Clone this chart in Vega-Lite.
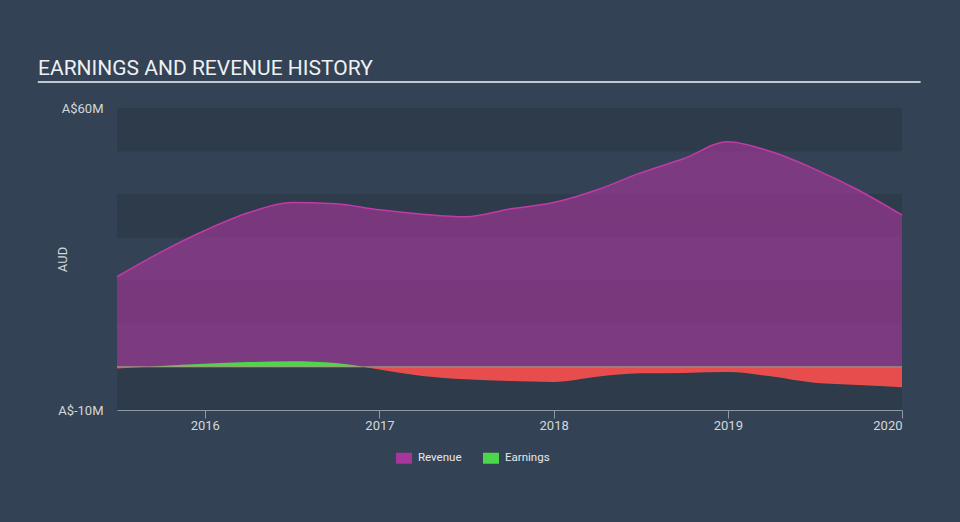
{
  "$schema": "https://vega.github.io/schema/vega-lite/v6.json",
  "width": 785,
  "height": 302,
  "autosize": {"type": "none"},
  "padding": {"left": 117, "top": 108, "right": 58, "bottom": 112},
  "background": "#334355",
  "config": {
    "view": {"stroke": null},
    "font": "Roboto",
    "legend": {
      "orient": "none",
      "direction": "horizontal",
      "legendX": 279,
      "legendY": 342,
      "title": null,
      "labelColor": "#e6e8ea",
      "labelFont": "Roboto",
      "labelFontSize": 11.5,
      "labelOffset": 6,
      "columnPadding": 21,
      "padding": 0,
      "symbolType": "M-1,-0.6875H1V0.6875H-1Z",
      "symbolSize": 256,
      "symbolOpacity": 1,
      "symbolStrokeWidth": 0
    }
  },
  "title": {
    "text": "EARNINGS AND REVENUE HISTORY",
    "anchor": "start",
    "frame": "group",
    "dx": -79,
    "dy": 22,
    "offset": 7,
    "baseline": "alphabetic",
    "font": "Roboto",
    "fontSize": 21,
    "fontWeight": "normal",
    "color": "#eef0f2"
  },
  "datasets": {
    "bands": [
      {"lo": 50, "hi": 60},
      {"lo": 30, "hi": 40},
      {"lo": 10, "hi": 20},
      {"lo": -10, "hi": 0}
    ],
    "one": [{"id": 1}],
    "history": [
      {"series": "Revenue", "date": "2015-07-01", "value": 20.9},
      {"series": "Revenue", "date": "2015-10-01", "value": 26.6},
      {"series": "Revenue", "date": "2016-01-01", "value": 31.6},
      {"series": "Revenue", "date": "2016-04-01", "value": 35.7},
      {"series": "Revenue", "date": "2016-07-01", "value": 38.1},
      {"series": "Revenue", "date": "2016-10-01", "value": 37.8},
      {"series": "Revenue", "date": "2017-01-01", "value": 36.4},
      {"series": "Revenue", "date": "2017-04-01", "value": 35.4},
      {"series": "Revenue", "date": "2017-07-01", "value": 34.8},
      {"series": "Revenue", "date": "2017-10-01", "value": 36.6},
      {"series": "Revenue", "date": "2018-01-01", "value": 38.1},
      {"series": "Revenue", "date": "2018-04-01", "value": 41.0},
      {"series": "Revenue", "date": "2018-07-01", "value": 44.9},
      {"series": "Revenue", "date": "2018-10-01", "value": 48.3},
      {"series": "Revenue", "date": "2019-01-01", "value": 52.2},
      {"series": "Revenue", "date": "2019-04-01", "value": 49.9},
      {"series": "Revenue", "date": "2019-07-01", "value": 45.9},
      {"series": "Revenue", "date": "2019-10-01", "value": 41.0},
      {"series": "Revenue", "date": "2020-01-01", "value": 35.2},
      {"series": "Earnings", "date": "2015-07-01", "value": -0.4},
      {"series": "Earnings", "date": "2015-10-01", "value": 0.2},
      {"series": "Earnings", "date": "2016-01-01", "value": 0.7},
      {"series": "Earnings", "date": "2016-04-01", "value": 1.1},
      {"series": "Earnings", "date": "2016-07-01", "value": 1.3},
      {"series": "Earnings", "date": "2016-10-01", "value": 0.9},
      {"series": "Earnings", "date": "2017-01-01", "value": -0.6},
      {"series": "Earnings", "date": "2017-04-01", "value": -2.1},
      {"series": "Earnings", "date": "2017-07-01", "value": -2.9},
      {"series": "Earnings", "date": "2017-10-01", "value": -3.3},
      {"series": "Earnings", "date": "2018-01-01", "value": -3.5},
      {"series": "Earnings", "date": "2018-04-01", "value": -2.3},
      {"series": "Earnings", "date": "2018-07-01", "value": -1.5},
      {"series": "Earnings", "date": "2018-10-01", "value": -1.4},
      {"series": "Earnings", "date": "2019-01-01", "value": -1.2},
      {"series": "Earnings", "date": "2019-04-01", "value": -2.2},
      {"series": "Earnings", "date": "2019-07-01", "value": -3.7},
      {"series": "Earnings", "date": "2019-10-01", "value": -4.2},
      {"series": "Earnings", "date": "2020-01-01", "value": -4.7}
    ]
  },
  "layer": [
    {
      "data": {"name": "bands"},
      "mark": {"type": "rect", "color": "#2d3b4a"},
      "encoding": {
        "x": {"datum": {"year": 2015, "month": 7, "date": 1, "utc": true}, "type": "temporal",
              "scale": {"type": "utc", "domain": [{"year": 2015, "month": 7, "date": 1, "utc": true}, {"year": 2020, "month": 1, "date": 1, "utc": true}]}},
        "x2": {"datum": {"year": 2020, "month": 1, "date": 1, "utc": true}},
        "y": {"field": "lo", "type": "quantitative", "scale": {"domain": [-10, 60], "nice": false, "zero": false}},
        "y2": {"field": "hi"}
      }
    },
    {
      "data": {"name": "history"},
      "transform": [{"filter": "datum.series === 'Revenue'"}],
      "mark": {"type": "area", "interpolate": "monotone", "fillOpacity": 0.64},
      "encoding": {
        "x": {"field": "date", "type": "temporal",
              "scale": {"type": "utc", "domain": [{"year": 2015, "month": 7, "date": 1, "utc": true}, {"year": 2020, "month": 1, "date": 1, "utc": true}]},
              "axis": {
                "title": null,
                "values": [{"year": 2016, "utc": true}, {"year": 2017, "utc": true}, {"year": 2018, "utc": true}, {"year": 2019, "utc": true}, {"year": 2020, "utc": true}],
                "format": "%Y",
                "labelFlush": true,
                "labelColor": "#d4d8dc",
                "labelFont": "Roboto",
                "labelFontSize": 13,
                "labelPadding": 1,
                "domainColor": "#8d99a6",
                "tickColor": "#8d99a6",
                "tickSize": 8,
                "grid": false
              }},
        "y": {"field": "value", "type": "quantitative",
              "scale": {"domain": [-10, 60], "nice": false, "zero": false},
              "axis": {
                "title": "AUD",
                "titleColor": "#d4d8dc",
                "titleFont": "Roboto",
                "titleFontSize": 13,
                "titleFontWeight": "normal",
                "titleX": -51,
                "titleY": 151,
                "titleBaseline": "alphabetic",
                "values": [-10, 60],
                "labelExpr": "'A$' + datum.value + 'M'",
                "labelColor": "#d4d8dc",
                "labelFont": "Roboto",
                "labelFontSize": 13,
                "labelPadding": 14,
                "labelBaseline": "middle",
                "domain": false,
                "ticks": false,
                "grid": false
              }},
        "y2": {"datum": 0},
        "color": {"field": "series", "type": "nominal",
                  "scale": {"domain": ["Revenue", "Earnings"], "range": ["#a6369a", "#4cd64c"]}}
      }
    },
    {
      "data": {"name": "history"},
      "transform": [{"filter": "datum.series === 'Revenue'"}],
      "mark": {"type": "line", "interpolate": "monotone", "color": "#c13aa6", "strokeWidth": 1.5},
      "encoding": {
        "x": {"field": "date", "type": "temporal",
              "scale": {"type": "utc", "domain": [{"year": 2015, "month": 7, "date": 1, "utc": true}, {"year": 2020, "month": 1, "date": 1, "utc": true}]}},
        "y": {"field": "value", "type": "quantitative", "scale": {"domain": [-10, 60], "nice": false, "zero": false}}
      }
    },
    {
      "data": {"name": "history"},
      "transform": [{"filter": "datum.series === 'Earnings'"}],
      "mark": {
        "type": "area",
        "interpolate": "monotone",
        "fill": {
          "gradient": "linear",
          "x1": 0, "y1": 0, "x2": 0, "y2": 1,
          "stops": [
            {"offset": 0, "color": "#4cd64c"},
            {"offset": 0.2167, "color": "#4cd64c"},
            {"offset": 0.2167, "color": "#e84d4d"},
            {"offset": 1, "color": "#e84d4d"}
          ]
        }
      },
      "encoding": {
        "x": {"field": "date", "type": "temporal",
              "scale": {"type": "utc", "domain": [{"year": 2015, "month": 7, "date": 1, "utc": true}, {"year": 2020, "month": 1, "date": 1, "utc": true}]}},
        "y": {"field": "value", "type": "quantitative", "scale": {"domain": [-10, 60], "nice": false, "zero": false}},
        "y2": {"datum": 0}
      }
    },
    {
      "data": {"name": "one"},
      "mark": {"type": "rule", "color": "#d89a96", "strokeWidth": 1, "opacity": 0.7},
      "encoding": {
        "x": {"datum": {"year": 2015, "month": 7, "date": 1, "utc": true}, "type": "temporal",
              "scale": {"type": "utc", "domain": [{"year": 2015, "month": 7, "date": 1, "utc": true}, {"year": 2020, "month": 1, "date": 1, "utc": true}]}},
        "x2": {"datum": {"year": 2020, "month": 1, "date": 1, "utc": true}},
        "y": {"datum": 0, "type": "quantitative", "scale": {"domain": [-10, 60], "nice": false, "zero": false}}
      }
    },
    {
      "data": {"name": "one"},
      "mark": {"type": "rule", "color": "#c3c8cd", "strokeWidth": 2},
      "encoding": {
        "x": {"datum": {"year": 2015, "month": 1, "date": 16, "utc": true}, "type": "temporal",
              "scale": {"type": "utc", "domain": [{"year": 2015, "month": 7, "date": 1, "utc": true}, {"year": 2020, "month": 1, "date": 1, "utc": true}]}},
        "x2": {"datum": {"year": 2020, "month": 2, "date": 9, "utc": true}},
        "y": {"datum": 66, "type": "quantitative", "scale": {"domain": [-10, 60], "nice": false, "zero": false}}
      }
    }
  ]
}
